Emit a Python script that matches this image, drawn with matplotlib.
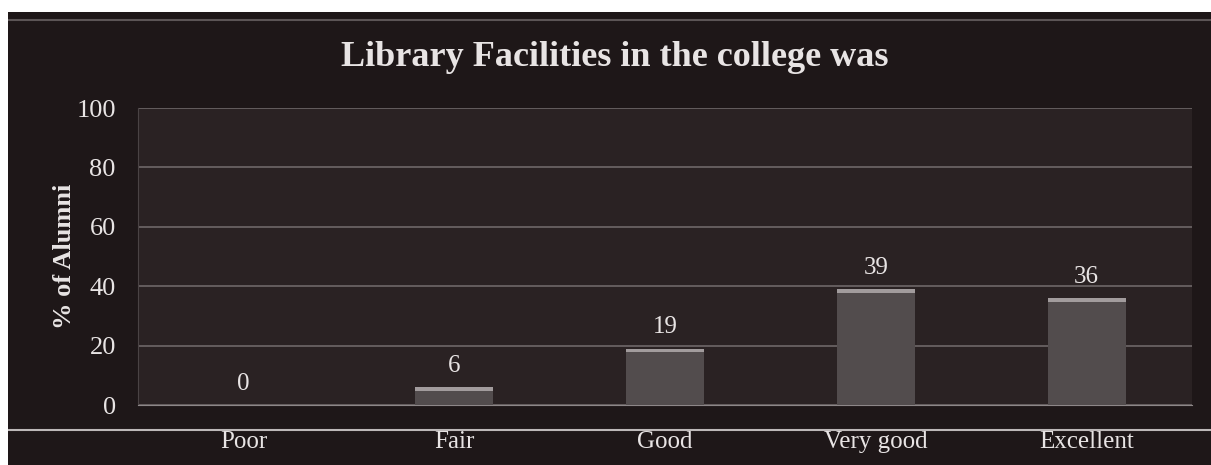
import numpy as np
import matplotlib.pyplot as plt
from matplotlib.patches import Rectangle
from matplotlib.lines import Line2D

# data
categories = ["Poor", "Fair", "Good", "Very good", "Excellent"]
alumni_pct = [0, 6, 19, 39, 36]
y_ticks = [0, 20, 40, 60, 80, 100]

plt.rcParams["font.family"] = ["Liberation Serif", "DejaVu Serif"]

bg_dark = "#1e1718"
plot_bg = "#2a2223"
text_col = "#e8e4e4"
grid_col = "#6e6768"

fig = plt.figure(figsize=(12.11, 4.65), dpi=100)
fig.patch.set_facecolor(bg_dark)

# white scan margins (top and left)
fig.patches.append(Rectangle((0, 1 - 12 / 465), 1, 12 / 465, transform=fig.transFigure,
                             facecolor="white", edgecolor="none", zorder=5))
fig.patches.append(Rectangle((0, 0), 8 / 1211, 1, transform=fig.transFigure,
                             facecolor="white", edgecolor="none", zorder=5))
# faint line under top margin and base line under the axis
fig.lines.append(Line2D([8 / 1211, 1], [1 - 20 / 465] * 2, transform=fig.transFigure,
                        color="#5c5556", lw=1.5))
fig.lines.append(Line2D([8 / 1211, 1], [1 - 430 / 465] * 2, transform=fig.transFigure,
                        color="#bdb8b8", lw=1.5))

ax = fig.add_axes([138 / 1211, 1 - 405 / 465, (1192 - 138) / 1211, (405 - 108) / 465])
ax.set_facecolor(plot_bg)

x = np.arange(len(categories))
ax.bar(x, alumni_pct, width=0.37, color="#524c4d", edgecolor="none", zorder=3)
# lighter top edge of each bar
ax.bar(x, [min(v, 1.2) for v in alumni_pct], bottom=[v - min(v, 1.2) for v in alumni_pct],
       width=0.37, color="#a29c9d", edgecolor="none", zorder=4)

for xi, v in zip(x, alumni_pct):
    ax.text(xi, v + 3.5, str(v), ha="center", va="bottom", color=text_col, fontsize=18)

ax.set_xlim(-0.5, len(categories) - 0.5)
ax.set_ylim(0, 100)
ax.set_yticks(y_ticks)
ax.set_xticks(x)
ax.set_xticklabels(categories)
ax.tick_params(axis="y", colors=text_col, labelsize=19, length=0, pad=16)
ax.tick_params(axis="x", colors=text_col, labelsize=18, length=0, pad=19)
ax.grid(axis="y", color=grid_col, lw=1.2, zorder=1)
for s in ax.spines.values():
    s.set_visible(False)
ax.spines["bottom"].set_visible(True)
ax.spines["bottom"].set_color("#8d8788")
ax.spines["left"].set_visible(True)
ax.spines["left"].set_color("#4a4344")

ax.set_ylabel("% of Alumni", color=text_col, fontsize=19, fontweight="bold", labelpad=0)
fig.text(615 / 1211, 1 - 57 / 465, "Library Facilities in the college was", ha="center",
         va="center", color=text_col, fontsize=26, fontweight="bold")

fig.savefig("out.png", dpi=100, facecolor=fig.get_facecolor())
